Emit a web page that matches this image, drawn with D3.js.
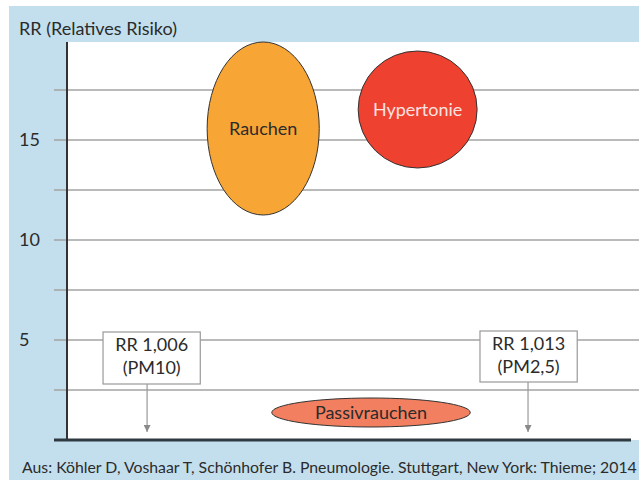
<!DOCTYPE html>
<html>
<head>
<meta charset="utf-8">
<script src="https://cdn.jsdelivr.net/npm/d3@7"></script>
<style>
  html, body { margin: 0; padding: 0; background: #fff; }
  svg { display: block; font-family: Lato, "Open Sans", sans-serif; }
</style>
</head>
<body>
<div id="chart"></div>
<script>
// Relative risks (RR) shown as shapes spanning a range on the RR axis
const risks = ['Rauchen', 'Hypertonie', 'Passivrauchen'];
const rrLow = [11.25, 13.6, 0.65];
const rrHigh = [19.9, 19.45, 2.1];
const posLow = [24.5, 50.9, 35.8];    // horizontal placement, 0..100
const posHigh = [44.1, 71.7, 70.5];
const riskColors = ['#f7a535', '#ee4130', '#f27f5f'];
const riskText = ['#2b2b2b', '#fbe3e0', '#2b2b2b'];

// Particulate matter callouts
const pmLabels = [['RR 1,006', '(PM10)'], ['RR 1,013', '(PM2,5)']];
const pmRR = [1.006, 1.013];
const pmPos = [14.0, 80.6];
const boxLow = [2.8, 2.9];
const boxHigh = [5.4, 5.45];
const boxLeft = [6.3, 72.2];
const boxRight = [23.3, 89.2];
const arrowTip = [0.4, 0.4];

const gridValues = [2.5, 5, 7.5, 10, 12.5, 15, 17.5];
const tickLabels = [5, 10, 15];

const width = 639, height = 480;
const svg = d3.select('#chart').append('svg')
    .attr('width', width)
    .attr('height', height);

// background panel
svg.append('rect')
    .attr('x', 9).attr('y', 6)
    .attr('width', width - 9).attr('height', height - 6)
    .attr('fill', '#c3dfee');

const plot = {left: 67, right: 639, top: 42, bottom: 440};

svg.append('rect')
    .attr('x', plot.left).attr('y', plot.top)
    .attr('width', plot.right - plot.left).attr('height', plot.bottom - plot.top)
    .attr('fill', '#fff');

const y = d3.scaleLinear().domain([0, 19.9]).range([plot.bottom, plot.top]);
const x = d3.scaleLinear().domain([0, 100]).range([plot.left, plot.right]);

// gridlines + ticks
svg.append('g')
    .selectAll('line')
    .data(gridValues)
    .join('line')
    .attr('x1', 54).attr('x2', plot.right)
    .attr('y1', d => y(d)).attr('y2', d => y(d))
    .attr('stroke', '#a3a3a3')
    .attr('stroke-width', 1.5);

svg.append('g')
    .selectAll('text')
    .data(tickLabels)
    .join('text')
    .attr('x', 19)
    .attr('y', d => y(d))
    .attr('dy', '0.36em')
    .attr('font-size', 18)
    .attr('fill', '#2b2b2b')
    .text(d => d);

svg.append('text')
    .attr('x', 19).attr('y', 35)
    .attr('font-size', 18)
    .attr('fill', '#2b2b2b')
    .text('RR (Relatives Risiko)');

// risk shapes
const shapes = svg.append('g')
    .selectAll('g')
    .data(risks)
    .join('g');

shapes.append('ellipse')
    .attr('cx', (d, i) => (x(posLow[i]) + x(posHigh[i])) / 2)
    .attr('cy', (d, i) => (y(rrLow[i]) + y(rrHigh[i])) / 2)
    .attr('rx', (d, i) => (x(posHigh[i]) - x(posLow[i])) / 2)
    .attr('ry', (d, i) => (y(rrLow[i]) - y(rrHigh[i])) / 2)
    .attr('fill', (d, i) => riskColors[i])
    .attr('stroke', '#333')
    .attr('stroke-width', 1);

shapes.append('text')
    .attr('x', (d, i) => (x(posLow[i]) + x(posHigh[i])) / 2)
    .attr('y', (d, i) => (y(rrLow[i]) + y(rrHigh[i])) / 2)
    .attr('dy', '0.36em')
    .attr('text-anchor', 'middle')
    .attr('font-size', 18)
    .attr('fill', (d, i) => riskText[i])
    .text(d => d);

// arrow marker
svg.append('defs').append('marker')
    .attr('id', 'arrow')
    .attr('viewBox', '0 0 10 10')
    .attr('refX', 10).attr('refY', 5)
    .attr('markerWidth', 7).attr('markerHeight', 7)
    .attr('markerUnits', 'userSpaceOnUse')
    .attr('orient', 'auto')
    .append('path')
    .attr('d', 'M0,0L10,5L0,10Z')
    .attr('fill', '#8a8a8a');

const callouts = svg.append('g')
    .selectAll('g')
    .data(pmLabels)
    .join('g');

callouts.append('line')
    .attr('x1', (d, i) => x(pmPos[i])).attr('x2', (d, i) => x(pmPos[i]))
    .attr('y1', (d, i) => y(boxLow[i])).attr('y2', (d, i) => y(arrowTip[i]))
    .attr('stroke', '#999')
    .attr('stroke-width', 1.2)
    .attr('marker-end', 'url(#arrow)');

callouts.append('rect')
    .attr('x', (d, i) => x(boxLeft[i]))
    .attr('y', (d, i) => y(boxHigh[i]))
    .attr('width', (d, i) => x(boxRight[i]) - x(boxLeft[i]))
    .attr('height', (d, i) => y(boxLow[i]) - y(boxHigh[i]))
    .attr('fill', '#fff')
    .attr('stroke', '#999')
    .attr('stroke-width', 1.2);

callouts.each(function(d, i) {
    const cx = (x(boxLeft[i]) + x(boxRight[i])) / 2;
    const top = y(boxHigh[i]);
    d3.select(this).selectAll('text.l')
        .data(d)
        .join('text')
        .attr('class', 'l')
        .attr('x', cx)
        .attr('y', (t, j) => top + 19 + j * 23)
        .attr('text-anchor', 'middle')
        .attr('font-size', 18)
        .attr('fill', '#2b2b2b')
        .text(t => t);
});

// axes
svg.append('line')
    .attr('x1', plot.left).attr('x2', plot.left)
    .attr('y1', plot.top).attr('y2', plot.bottom)
    .attr('stroke', '#333').attr('stroke-width', 2);

svg.append('line')
    .attr('x1', 54).attr('x2', 631)
    .attr('y1', plot.bottom).attr('y2', plot.bottom)
    .attr('stroke', '#2f3a40').attr('stroke-width', 3);

// source
svg.append('text')
    .attr('x', 22).attr('y', 473)
    .attr('font-size', 15.8)
    .attr('fill', '#2b2b2b')
    .text('Aus: Köhler D, Voshaar T, Schönhofer B. Pneumologie. Stuttgart, New York: Thieme; 2014');
</script>
</body>
</html>
